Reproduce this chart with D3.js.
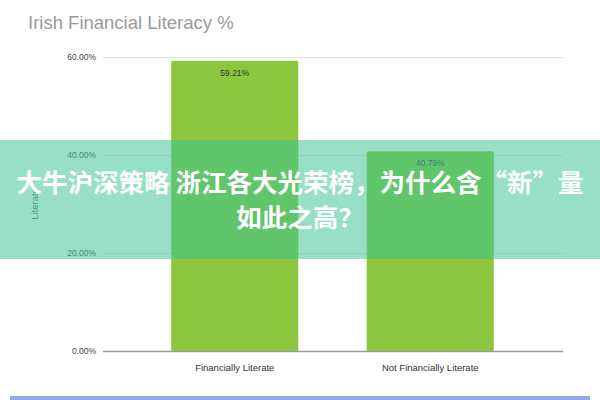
<!DOCTYPE html>
<html>
  <head>
    <meta charset="utf-8" />
    <title>Irish Financial Literacy %</title>
    <style>
      body { margin: 0; background: #fff; }
      svg { display: block; }
    </style>
  </head>
  <body>
  <div id="container"></div>
  <script src="https://cdn.jsdelivr.net/npm/d3@7"></script>
  <script type="text/javascript">

    var categories = ['Financially Literate', 'Not Financially Literate'];
    var values = [59.21, 40.79];
    var yTicks = [0, 20, 40, 60];
    var overlayLines = ['大牛沪深策略 浙江各大光荣榜，为什么含“新”量', '如此之高？'];

    var width = 600;
    var height = 400;

    var svg = d3.select('#container').append('svg').attr('width', width).attr('height', height);

    // scales
    var x = d3.scaleBand().domain(categories).range([137, 528]).paddingInner(0.35).paddingOuter(0.175);
    var y = d3.scaleLinear().domain([0, 60]).range([351, 57]);

    // title
    svg.append('text')
      .attr('x', 28).attr('y', 29)
      .attr('font-family', 'Liberation Sans, Arial, sans-serif')
      .attr('font-size', 18.5)
      .attr('fill', '#9a9a9a')
      .text('Irish Financial Literacy %');

    // gridlines + y tick labels
    var yAxis = svg.append('g').attr('transform', 'translate(103,0)')
      .call(d3.axisLeft(y).tickValues(yTicks).tickSize(-460).tickPadding(7)
        .tickFormat(function(d){ return d.toFixed(2) + '%'; }));
    yAxis.select('.domain').remove();
    yAxis.selectAll('.tick line')
      .attr('stroke', function(d){ return d === 0 ? '#9a9a9a' : '#e4e4e4'; })
      .attr('stroke-width', function(d){ return d === 0 ? 1.5 : 1; });
    yAxis.selectAll('.tick text')
      .attr('font-family', 'Liberation Sans, Arial, sans-serif')
      .attr('font-size', 8.5)
      .attr('fill', '#444');

    // y axis title
    svg.append('text')
      .attr('transform', 'translate(38,' + y(30) + ') rotate(-90)')
      .attr('text-anchor', 'middle')
      .attr('font-family', 'Liberation Sans, Arial, sans-serif')
      .attr('font-size', 9.5)
      .attr('fill', '#666')
      .text('Literate');

    // bars
    svg.selectAll('path.bar').data(values).enter().append('path')
      .attr('class', 'bar')
      .attr('fill', '#8dc63f')
      .attr('d', function(d, i){
        var x0 = x(categories[i]), w = x.bandwidth(), y0 = y(d), y1 = y(0), r = 2;
        return 'M' + x0 + ',' + y1 + 'V' + (y0 + r) + 'Q' + x0 + ',' + y0 + ' ' + (x0 + r) + ',' + y0 +
          'H' + (x0 + w - r) + 'Q' + (x0 + w) + ',' + y0 + ' ' + (x0 + w) + ',' + (y0 + r) + 'V' + y1 + 'Z';
      });

    // value labels
    svg.selectAll('text.val').data(values).enter().append('text')
      .attr('class', 'val')
      .attr('x', function(d, i){ return x(categories[i]) + x.bandwidth() / 2; })
      .attr('y', function(d){ return y(d) + 15; })
      .attr('text-anchor', 'middle')
      .attr('font-family', 'Liberation Sans, Arial, sans-serif')
      .attr('font-size', 8.5)
      .attr('fill', '#333')
      .text(function(d){ return d.toFixed(2) + '%'; });

    // category labels
    svg.selectAll('text.cat').data(categories).enter().append('text')
      .attr('class', 'cat')
      .attr('x', function(d){ return x(d) + x.bandwidth() / 2; })
      .attr('y', 371)
      .attr('text-anchor', 'middle')
      .attr('font-family', 'Liberation Sans Narrow, Liberation Sans, Arial, sans-serif')
      .attr('font-size', 9.5)
      .attr('fill', '#333')
      .text(function(d){ return d; });

    // bottom strip
    svg.append('rect')
      .attr('x', 10).attr('y', 396).attr('width', 580).attr('height', 4)
      .attr('fill', '#98a8e6');

    // translucent overlay band with caption
    svg.append('rect')
      .attr('x', 0).attr('y', 140).attr('width', width).attr('height', 119)
      .attr('fill', 'rgb(59,196,150)').attr('fill-opacity', 0.53);

    svg.selectAll('text.ov').data(overlayLines).enter().append('text')
      .attr('class', 'ov')
      .attr('x', width / 2)
      .attr('y', function(d, i){ return 192 + i * 35; })
      .attr('text-anchor', 'middle')
      .attr('font-family', 'Noto Sans CJK SC, sans-serif')
      .attr('font-weight', 'bold')
      .attr('font-size', 25.5)
      .attr('fill', '#fff')
      .text(function(d){ return d; });

  </script>
  </body>
</html>
